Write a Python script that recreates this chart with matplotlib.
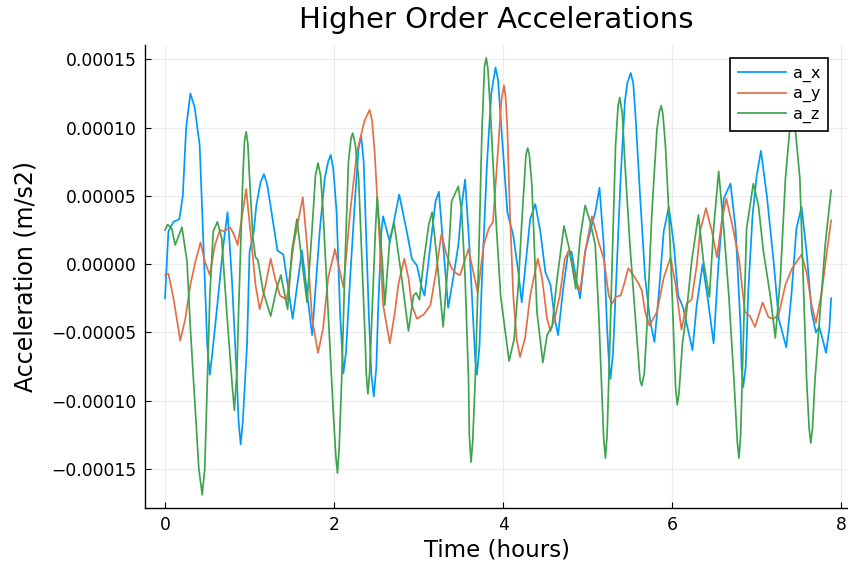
import numpy as np
import matplotlib
matplotlib.use("Agg")
from matplotlib import pyplot as plt

# (time in hours, acceleration in 1e-5 m/s2)
ax_pts = [
    (0.00, -2.5), (0.04, 2.4), (0.10, 3.1), (0.17, 3.3), (0.21, 5.0), (0.25, 10.0), (0.30, 12.5),
    (0.35, 11.5), (0.41, 8.7), (0.47, -1.0), (0.50, -6.0), (0.53, -8.1), (0.56, -6.5), (0.61, -3.5),
    (0.69, 1.4), (0.74, 3.8), (0.79, -1.0), (0.85, -8.4), (0.87, -11.5), (0.895, -13.2),
    (0.92, -11.5), (0.97, -5.9), (1.00, 0.9), (1.05, 2.4), (1.08, 4.3), (1.13, 6.0), (1.17, 6.6),
    (1.21, 5.8), (1.26, 3.8), (1.33, 1.0), (1.40, 0.7), (1.51, -4.0), (1.62, 1.0), (1.74, -5.2),
    (1.83, 2.4), (1.89, 6.3), (1.93, 7.5), (1.96, 8.0), (1.99, 7.0), (2.03, 3.8), (2.07, -3.5),
    (2.11, -8.0), (2.14, -6.5), (2.19, -1.0), (2.25, 5.0), (2.29, 8.5), (2.32, 9.4), (2.35, 7.5),
    (2.37, 3.8), (2.41, -3.5), (2.44, -8.0), (2.47, -9.7), (2.50, -7.5), (2.52, -3.5), (2.56, 2.4),
    (2.58, 3.5), (2.66, 1.6), (2.77, 5.1), (2.86, 2.4), (2.92, 0.4), (2.98, -0.1), (3.04, -1.8),
    (3.07, -2.3), (3.14, 1.4), (3.20, 4.6), (3.24, 5.3), (3.29, 1.4), (3.35, -3.2), (3.41, -1.0),
    (3.47, 1.4), (3.51, 4.3), (3.55, 6.2), (3.60, 1.4), (3.65, -4.7), (3.67, -7.0), (3.69, -8.1),
    (3.72, -6.0), (3.75, -1.0), (3.81, 7.5), (3.86, 12.5), (3.91, 14.4), (3.94, 13.5), (3.98, 9.9),
    (4.05, 3.8), (4.12, 2.1), (4.18, -0.6), (4.22, -2.8), (4.28, 0.9), (4.32, 3.3), (4.38, 4.4),
    (4.44, 2.4), (4.50, -0.6), (4.56, -1.5), (4.61, -4.0), (4.65, -5.2), (4.71, -1.8), (4.77, 0.9),
    (4.81, 0.9), (4.87, -1.3), (4.91, -2.5), (4.97, 0.9), (5.05, 2.9), (5.09, 3.8), (5.14, 5.6),
    (5.19, 1.4), (5.23, -4.7), (5.25, -7.0), (5.27, -8.4), (5.30, -6.5), (5.33, -2.3), (5.39, 6.3),
    (5.44, 11.9), (5.47, 13.3), (5.51, 14.0), (5.54, 13.2), (5.57, 10.5), (5.62, 5.0), (5.68, -1.0),
    (5.74, -4.2), (5.79, -5.7), (5.84, -2.3), (5.90, 2.4), (5.96, 4.2), (6.02, 1.4), (6.07, -2.3),
    (6.13, -3.2), (6.24, -6.3), (6.29, -3.0), (6.36, 0.0), (6.42, -2.5), (6.49, -5.8), (6.55, 0.2),
    (6.61, 4.8), (6.69, 5.9), (6.75, 2.6), (6.81, -4.7), (6.82, -7.5), (6.84, -9.0), (6.87, -7.5),
    (6.90, -2.0), (6.95, 3.5), (7.00, 6.5), (7.05, 8.3), (7.12, 5.0), (7.20, 0.2), (7.26, -4.0),
    (7.35, -6.1), (7.41, -2.3), (7.47, 2.6), (7.53, 4.2), (7.59, 0.9), (7.65, -3.5), (7.70, -5.0),
    (7.74, -4.6), (7.78, -5.5), (7.82, -6.5), (7.86, -4.7), (7.88, -2.5),
]

ay_pts = [
    (0.00, -0.8), (0.04, -0.7), (0.10, -2.5), (0.18, -5.6), (0.24, -4.0), (0.30, -1.5), (0.36, 0.2),
    (0.42, 1.6), (0.47, 0.2), (0.53, -0.8), (0.59, 1.4), (0.65, 2.5), (0.70, 2.4), (0.77, 2.7),
    (0.82, 2.1), (0.86, 1.4), (0.96, 5.5), (1.01, 2.4), (1.07, -1.5), (1.12, -3.3), (1.18, -1.8),
    (1.25, 0.4), (1.30, -1.0), (1.36, -2.3), (1.44, -2.6), (1.52, 1.4), (1.63, 4.9), (1.68, 1.4),
    (1.74, -4.0), (1.81, -6.5), (1.87, -4.7), (1.93, -1.0), (2.01, 1.1), (2.11, -1.7), (2.19, 3.8),
    (2.27, 8.2), (2.36, 10.5), (2.42, 11.3), (2.45, 10.5), (2.48, 8.2), (2.52, 3.8), (2.58, -3.0),
    (2.66, -5.8), (2.72, -3.5), (2.76, -1.5), (2.83, 0.4), (2.88, -1.0), (2.92, -3.0), (2.98, -4.0),
    (3.06, -3.7), (3.14, -3.0), (3.20, -0.8), (3.27, 2.2), (3.33, 0.7), (3.39, -0.3), (3.45, -0.7),
    (3.49, -0.8), (3.59, 1.1), (3.70, -2.1), (3.77, 1.4), (3.83, 2.6), (3.88, 3.1), (3.93, 7.5),
    (3.98, 12.0), (4.01, 13.1), (4.03, 12.2), (4.05, 9.9), (4.08, 3.8), (4.12, -2.3), (4.16, -5.5),
    (4.20, -6.8), (4.26, -5.4), (4.32, -2.3), (4.41, 0.4), (4.46, -1.0), (4.52, -4.0), (4.56, -4.9),
    (4.61, -4.0), (4.67, -2.3), (4.73, 0.4), (4.78, 1.0), (4.85, -1.0), (4.91, -2.0), (4.97, 0.9),
    (5.05, 3.5), (5.13, 1.6), (5.19, 0.4), (5.25, -2.3), (5.29, -2.9), (5.33, -2.4), (5.39, -2.3),
    (5.43, -1.5), (5.48, -0.3), (5.54, -0.8), (5.60, -1.4), (5.64, -1.9), (5.68, -3.5), (5.73, -4.5),
    (5.82, -3.5), (5.90, -1.0), (5.98, 0.5), (6.04, -1.5), (6.11, -4.8), (6.17, -2.9), (6.23, -2.6),
    (6.29, -0.1), (6.33, 2.4), (6.40, 4.1), (6.47, 2.4), (6.53, 0.5), (6.59, 3.3), (6.64, 4.8),
    (6.71, 2.9), (6.79, 0.4), (6.86, -3.5), (6.92, -3.8), (6.98, -4.6), (7.07, -2.8), (7.14, -3.9),
    (7.20, -4.0), (7.26, -3.7), (7.34, -1.5), (7.42, -0.3), (7.53, 0.7), (7.59, -0.6), (7.65, -3.0),
    (7.70, -4.3), (7.77, -2.0), (7.83, 0.9), (7.88, 3.2),
]

az_pts = [
    (0.00, 2.5), (0.03, 2.9), (0.08, 2.6), (0.12, 1.4), (0.20, 2.7), (0.26, 0.2), (0.30, -4.7),
    (0.36, -10.8), (0.40, -15.0), (0.44, -16.9), (0.47, -15.0), (0.49, -10.8), (0.53, -2.3),
    (0.57, 2.4), (0.62, 3.1), (0.67, 1.9), (0.73, -3.5), (0.79, -8.5), (0.82, -10.7), (0.85, -8.0),
    (0.87, -3.5), (0.92, 6.3), (0.94, 9.0), (0.96, 9.7), (0.98, 8.8), (1.00, 6.3), (1.04, 1.9),
    (1.07, 0.5), (1.10, 0.3), (1.16, -2.0), (1.25, -3.8), (1.32, -1.8), (1.37, -0.8), (1.45, -3.3),
    (1.50, 0.9), (1.56, 3.3), (1.62, 0.2), (1.68, -2.8), (1.74, 2.6), (1.78, 6.5), (1.81, 7.4),
    (1.84, 6.5), (1.87, 3.8), (1.93, -3.5), (1.99, -10.8), (2.02, -14.0), (2.04, -15.3),
    (2.06, -13.5), (2.09, -8.4), (2.13, 0.2), (2.17, 7.5), (2.20, 9.2), (2.22, 9.6), (2.25, 8.8),
    (2.29, 6.3), (2.33, 0.2), (2.37, -5.9), (2.38, -8.0), (2.40, -9.5), (2.42, -8.0), (2.45, -3.5),
    (2.49, 2.6), (2.51, 4.9), (2.57, 0.2), (2.60, -3.0), (2.66, 1.9), (2.71, 3.0), (2.80, -1.0),
    (2.88, -4.9), (2.94, -2.3), (2.97, -2.1), (3.01, -2.6), (3.06, 0.2), (3.12, 2.9), (3.16, 3.8),
    (3.22, 0.2), (3.29, -4.6), (3.35, 0.2), (3.39, 4.6), (3.47, 5.7), (3.51, 3.8), (3.55, -1.0),
    (3.59, -8.4), (3.60, -12.5), (3.62, -14.5), (3.64, -13.0), (3.67, -8.4), (3.71, 0.2),
    (3.75, 9.9), (3.78, 14.5), (3.80, 15.1), (3.82, 14.3), (3.85, 11.1), (3.91, 3.8), (3.97, -2.3),
    (4.07, -7.1), (4.13, -5.5), (4.18, -1.5), (4.22, 3.0), (4.27, 8.0), (4.29, 8.5), (4.31, 8.0),
    (4.34, 5.8), (4.40, -3.5), (4.47, -7.2), (4.52, -5.2), (4.58, -4.5), (4.64, -1.0), (4.72, 2.8),
    (4.79, 0.9), (4.86, -1.8), (4.91, 1.9), (4.97, 4.3), (5.03, 3.1), (5.09, 1.4), (5.13, -3.5),
    (5.17, -9.6), (5.19, -12.8), (5.21, -14.2), (5.23, -12.5), (5.25, -8.4), (5.29, 0.2),
    (5.33, 8.7), (5.36, 11.6), (5.38, 12.2), (5.41, 11.0), (5.44, 7.5), (5.50, 1.4), (5.56, -3.5),
    (5.62, -8.5), (5.64, -8.9), (5.67, -8.0), (5.70, -4.7), (5.76, 3.8), (5.82, 9.9), (5.85, 11.2),
    (5.87, 11.6), (5.89, 11.0), (5.92, 8.7), (5.96, 3.8), (6.00, -2.3), (6.04, -9.0), (6.06, -10.3),
    (6.08, -9.5), (6.12, -5.9), (6.17, -3.5), (6.23, 0.2), (6.31, 3.6), (6.37, 0.2), (6.44, -2.4),
    (6.49, 2.6), (6.55, 6.8), (6.61, 2.6), (6.67, -2.3), (6.73, -8.4), (6.77, -13.0), (6.79, -14.2),
    (6.81, -12.5), (6.84, -5.9), (6.88, 2.6), (6.96, 5.9), (7.02, 4.3), (7.08, 0.9), (7.16, -2.3),
    (7.22, -5.4), (7.28, -1.0), (7.34, 6.3), (7.40, 10.5), (7.44, 11.0), (7.51, 6.3), (7.55, -1.0),
    (7.59, -8.4), (7.62, -12.0), (7.64, -13.1), (7.66, -12.0), (7.69, -8.4), (7.75, -3.5),
    (7.81, 1.4), (7.88, 5.4),
]

series_labels = ["a_x", "a_y", "a_z"]
y_ticks = [-0.00015, -0.00010, -0.00005, 0.0, 0.00005, 0.00010, 0.00015]
x_ticks = [0, 2, 4, 6, 8]

colors = ["#009AFA", "#E36F47", "#3EA44E"]

fig = plt.figure(figsize=(8.48, 5.68), dpi=100)
ax = fig.add_axes([145 / 848, 60 / 568, 703 / 848, 463 / 568])

for pts, lab, c in zip([ax_pts, ay_pts, az_pts], series_labels, colors):
    t, v = np.array(sorted(pts)).T
    ax.plot(t, v * 1e-5, color=c, lw=1.25, label=lab)

ax.set_xlim(-0.237, 8.08)
ax.set_ylim(-17.86e-5, 16.05e-5)
ax.set_xticks(x_ticks)
ax.set_yticks(y_ticks)
ax.set_yticklabels([f"{v:.5f}".replace("-", "\u2212") for v in y_ticks])
ax.grid(True, color="#ececec", lw=0.8)
ax.set_axisbelow(True)
for s in ["top", "right"]:
    ax.spines[s].set_visible(False)
for s in ["left", "bottom"]:
    ax.spines[s].set_linewidth(1.0)
ax.tick_params(direction="in", length=4, labelsize=12.3, pad=6)

ax.set_title("Higher Order Accelerations", fontsize=21, pad=12)
ax.set_xlabel("Time (hours)", fontsize=16.5, labelpad=3)
ax.set_ylabel("Acceleration (m/s2)", fontsize=17, labelpad=10)

leg = ax.legend(loc="upper right", bbox_to_anchor=((828 - 145) / 703, (508 - 58) / 463),
                borderaxespad=0, fontsize=11.5, frameon=True, fancybox=False, framealpha=1.0,
                edgecolor="black", handlelength=3.0, borderpad=0.5, labelspacing=0.25,
                handletextpad=0.4)
leg.get_frame().set_linewidth(1.2)

fig.savefig("out.png", dpi=100)
